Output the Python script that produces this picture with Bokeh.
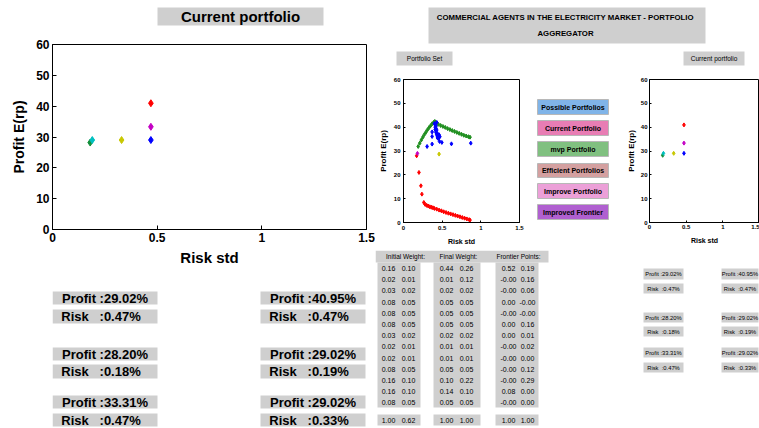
from bokeh.plotting import figure
from bokeh.layouts import row, column
from bokeh.models import Range1d, FixedTicker, NumeralTickFormatter
from bokeh.core.properties import value
from bokeh.embed import file_html
from bokeh.resources import INLINE

# ---------------- data ----------------
cur_profit = [29.02, 28.20, 33.31]
cur_risk = [0.47, 0.18, 0.47]
imp_profit = [40.95, 29.02, 29.02]
imp_risk = [0.47, 0.19, 0.33]
cur_colors = ["#0000ff", "#138f3a", "#c400c4"]
imp_colors = ["#ff0000", "#00c0c0", "#c8c800"]

eff_x = [0.19, 0.21, 0.23, 0.25, 0.27, 0.29, 0.31, 0.33, 0.35, 0.37, 0.39, 0.405,
         0.42, 0.45, 0.48, 0.51, 0.54, 0.57, 0.60, 0.63, 0.66, 0.69, 0.72, 0.75,
         0.78, 0.81, 0.84, 0.86]
eff_y = [31.9, 33.3, 34.6, 35.8, 36.9, 37.9, 38.9, 39.8, 40.6, 41.4, 42.0, 42.4,
         41.7, 41.2, 40.7, 40.3, 39.9, 39.4, 39.0, 38.6, 38.2, 37.8, 37.4, 37.0,
         36.6, 36.3, 36.0, 35.8]
low_x = [0.17, 0.20, 0.225, 0.238, 0.263, 0.28, 0.30, 0.32, 0.34, 0.36, 0.38, 0.40,
         0.43, 0.46, 0.49, 0.52, 0.55, 0.58, 0.61, 0.64, 0.67, 0.70, 0.73, 0.76,
         0.79, 0.82, 0.85, 0.86]
low_y = [28.0, 21.0, 15.4, 11.9, 8.4, 7.6, 7.2, 6.9, 6.6, 6.4, 6.2, 5.9,
         5.6, 5.2, 4.9, 4.5, 4.2, 3.9, 3.6, 3.3, 3.0, 2.7, 2.4, 2.1,
         1.8, 1.5, 1.2, 1.0]
pos_x = [0.305, 0.37, 0.37, 0.37, 0.466, 0.496, 0.62, 0.87, 0.40, 0.41, 0.41, 0.42,
         0.42, 0.42, 0.43, 0.43, 0.43, 0.44, 0.44, 0.44, 0.45, 0.45, 0.46, 0.46,
         0.47, 0.41, 0.42, 0.43]
pos_y = [31.9, 32.9, 36.1, 38.0, 34.0, 33.6, 33.0, 33.3, 41.5, 41.0, 40.0, 39.5,
         38.5, 40.5, 37.5, 38.8, 36.8, 36.0, 37.2, 35.5, 35.2, 36.5, 35.8, 36.8,
         36.0, 39.0, 37.8, 42.0]
set_cur_x = [0.46, 0.18]
set_cur_y = [28.7, 29.0]
set_cur_c = ["#c8c800", "#c400c4"]

x_ticks = [0, 0.5, 1, 1.5]
y_ticks = [0, 10, 20, 30, 40, 50, 60]

init_w1 = [0.16, 0.02, 0.03, 0.08, 0.08, 0.08, 0.03, 0.02, 0.02, 0.08, 0.16, 0.16, 0.08]
init_w2 = [0.10, 0.01, 0.02, 0.05, 0.05, 0.05, 0.02, 0.01, 0.01, 0.05, 0.10, 0.10, 0.05]
final_w1 = [0.44, 0.01, 0.02, 0.05, 0.05, 0.05, 0.02, 0.01, 0.01, 0.05, 0.10, 0.14, 0.05]
final_w2 = [0.26, 0.12, 0.02, 0.05, 0.05, 0.05, 0.02, 0.01, 0.01, 0.05, 0.22, 0.10, 0.05]
front_1 = [0.52, -0.0, -0.0, 0.0, -0.0, 0.0, 0.0, -0.0, -0.0, -0.0, -0.0, 0.08, -0.0]
front_2 = [0.19, 0.16, 0.06, -0.0, -0.0, 0.16, 0.01, 0.02, 0.00, 0.12, 0.29, 0.00, 0.00]
totals = [[1.00, 0.62], [1.00, 1.00], [1.00, 1.00]]
table_heads = ["Initial Weight:", "Final Weight:", "Frontier Points:"]

buttons = ["Possible Portfolios", "Current Portfolio", "mvp Portfolio",
           "Efficient Portfolios", "Improve Portfolio", "Improved Frontier"]
button_colors = ["#80b4e8", "#e87db4", "#80c080", "#d4a0a0", "#eca0d8", "#b060d0"]

SANS = "Liberation Sans"
GRAY = "#cfcfcf"


def canvas(x0, x1, y0, y1, bl=0, br=0, bt=0, bb=0):
    """Blank drawing area; (x0..x1, y0..y1) is the whole canvas in page pixels,
    the borders bl/br/bt/bb match the neighbouring plots' frames."""
    p = figure(width=x1 - x0, height=y1 - y0,
               x_range=Range1d(x0 + bl, x1 - br), y_range=Range1d(y1 - bb, y0 + bt),
               output_backend="svg", toolbar_location=None,
               min_border_left=bl, min_border_right=br,
               min_border_top=bt, min_border_bottom=bb,
               x_axis_location=None, y_axis_location=None)
    p.grid.visible = False
    p.outline_line_color = None
    p.background_fill_color = "white"
    p.border_fill_color = "white"
    return p


def box(p, l, r, t, b, color, line_color=None):
    p.quad(left=[l], right=[r], top=[t], bottom=[b], fill_color=color,
           line_color=line_color)


def txt(p, x, y, s, size, bold=True, align="center"):
    p.text(x=[x], y=[y], text=[s], text_font=value(SANS),
           text_font_size=f"{size}px", text_font_style="bold" if bold else "normal",
           text_align=align, text_baseline="middle", text_color="black")


def scatter_fig(x0, x1, y0, y1, fl, fr, ft, fb, tick_size, xlab_size, ylab_size,
                tsoff, lsoff_x, lsoff_y, tick_len):
    p = figure(width=x1 - x0, height=y1 - y0, x_range=Range1d(0, 1.5),
               y_range=Range1d(0, 60), output_backend="svg", toolbar_location=None,
               min_border_left=fl - x0, min_border_right=x1 - fr,
               min_border_top=ft - y0, min_border_bottom=y1 - fb)
    p.grid.visible = False
    p.outline_line_color = "black"
    p.background_fill_color = "white"
    p.border_fill_color = "white"
    p.xaxis.ticker = FixedTicker(ticks=x_ticks)
    p.yaxis.ticker = FixedTicker(ticks=y_ticks)
    p.xaxis.formatter = NumeralTickFormatter(format="0.[0]")
    for ax in (p.xaxis[0], p.yaxis[0]):
        ax.major_tick_in = tick_len
        ax.major_tick_out = 0
        ax.minor_tick_in = 0
        ax.minor_tick_out = 0
        ax.axis_line_color = "black"
        ax.major_label_text_font = SANS
        ax.major_label_text_font_size = f"{tick_size}px"
        ax.major_label_text_font_style = "bold"
        ax.major_label_text_color = "black"
        ax.major_label_standoff = tsoff
        ax.axis_label_text_font = SANS
        ax.axis_label_text_font_style = "bold"
        ax.axis_label_text_color = "black"
    p.xaxis.axis_label = "Risk std"
    p.yaxis.axis_label = "Profit E(rp)"
    p.xaxis.axis_label_text_font_size = f"{xlab_size}px"
    p.yaxis.axis_label_text_font_size = f"{ylab_size}px"
    p.xaxis.axis_label_standoff = lsoff_x
    p.yaxis.axis_label_standoff = lsoff_y
    return p


# ---------------- left column ----------------
A_L, A_R = 52, 366   # frame edges of the left chart (columns align their frames)
cA1 = canvas(0, 375, 0, 38, bl=A_L, br=375 - A_R)
box(cA1, 157, 323, 7, 25, GRAY)
txt(cA1, 240, 16, "Current portfolio", 15)

figA = scatter_fig(0, 375, 38, 268, A_L, A_R, 44, 231, 12, 15, 14, 3, 4, 6, 4)
figA.scatter(cur_risk, cur_profit, marker="diamond", size=7, color=cur_colors)
figA.scatter(imp_risk, imp_profit, marker="diamond", size=7, color=imp_colors)

cA2 = canvas(0, 375, 268, 428, bl=A_L, br=375 - A_R)
col_lr = [(52, 157), (260, 365)]
prof_rows = [(291, 304), (347, 360), (395, 408)]
risk_rows = [(309, 323), (364, 378), (413, 426)]
for ci, (profits, risks) in enumerate([(cur_profit, cur_risk), (imp_profit, imp_risk)]):
    l, r = col_lr[ci]
    for i in range(3):
        t, b = prof_rows[i]
        box(cA2, l, r, t, b, GRAY)
        txt(cA2, (l + r) / 2, (t + b) / 2, f"Profit :{profits[i]:.2f}%", 13)
        t, b = risk_rows[i]
        box(cA2, l, r, t, b, GRAY)
        txt(cA2, (l + r) / 2 - 4, (t + b) / 2,
            f"Risk\u00a0\u00a0\u00a0:{risks[i]:.2f}%", 13)

colA = column(cA1, figA, cA2, spacing=0)

# ---------------- right block ----------------
cB1 = canvas(375, 759, 0, 70)
box(cB1, 428, 705, 7, 43, GRAY)
txt(cB1, 565, 17, "COMMERCIAL AGENTS IN THE ELECTRICITY MARKET - PORTFOLIO", 7.8)
txt(cB1, 565, 33, "AGGREGATOR", 7.8)
box(cB1, 396, 452, 51, 65, GRAY)
txt(cB1, 424, 58, "Portfolio Set", 6.5, bold=False)
box(cB1, 683, 744, 51, 65, GRAY)
txt(cB1, 713.5, 58, "Current portfolio", 6.5, bold=False)

M_T, M_B = 79, 222   # frame top/bottom of the middle row (rows align their frames)
figM = scatter_fig(375, 530, 70, 250, 401, 519, M_T, M_B, 6, 7, 8, 3, 5, 3, 2)
figM.scatter(eff_x, eff_y, marker="diamond", size=4, color="#1f8f1f")
figM.scatter(low_x, low_y, marker="diamond", size=4, color="#ff0000")
figM.scatter(pos_x, pos_y, marker="diamond", size=4, color="#0000ff")
figM.scatter(set_cur_x, set_cur_y, marker="diamond", size=4, color=set_cur_c)

cBtn = canvas(530, 623, 70, 250, bt=M_T - 70, bb=250 - M_B)
btn_rows = [(99, 114), (120, 135), (141, 156), (163, 177), (183, 198), (204, 219)]
for (t, b), name, c in zip(btn_rows, buttons, button_colors):
    box(cBtn, 537, 608, t, b, c, line_color="#b8b8b8")
    txt(cBtn, 572.5, (t + b) / 2, name, 7)

figR = scatter_fig(623, 759, 70, 250, 643, 759, M_T, M_B, 6, 7, 8, 2, 5, 2, 2)
figR.scatter(cur_risk, cur_profit, marker="diamond", size=4, color=cur_colors)
figR.scatter(imp_risk, imp_profit, marker="diamond", size=4, color=imp_colors)

cB3 = canvas(375, 759, 250, 428)
box(cB3, 375, 548, 250, 262, GRAY)
col_boxes = [(377, 420), (433, 480), (495, 538)]
head_x = [405, 458, 518]
val_x = [(388, 408), (446, 466), (508, 527)]
for h, hx in zip(table_heads, head_x):
    txt(cB3, hx, 256, h, 6.5, bold=False)
cols = [(init_w1, init_w2), (final_w1, final_w2), (front_1, front_2)]
for ci, ((l, r), (a, b), (vx1, vx2)) in enumerate(zip(col_boxes, cols, val_x)):
    box(cB3, l, r, 262, 407, GRAY)
    box(cB3, l, r, 414, 425, GRAY)
    for i in range(len(a)):
        y = 268 + i * 11.2
        txt(cB3, vx1, y, f"{a[i]:.2f}", 7, bold=False)
        txt(cB3, vx2, y, f"{b[i]:.2f}", 7, bold=False)
    txt(cB3, vx1, 419.5, f"{totals[ci][0]:.2f}", 7, bold=False)
    txt(cB3, vx2, 419.5, f"{totals[ci][1]:.2f}", 7, bold=False)

rp_cols = [(643, 683), (721, 758)]
rp_prof = [(268, 279), (312, 322), (347, 357)]
rp_risk = [(283, 293), (326, 336), (362, 372)]
for ci, (profits, risks) in enumerate([(cur_profit, cur_risk), (imp_profit, imp_risk)]):
    l, r = rp_cols[ci]
    for i in range(3):
        t, b = rp_prof[i]
        box(cB3, l, r, t, b, GRAY)
        txt(cB3, (l + r) / 2, (t + b) / 2, f"Profit :{profits[i]:.2f}%", 5.8, bold=False)
        t, b = rp_risk[i]
        box(cB3, l, r, t, b, GRAY)
        txt(cB3, (l + r) / 2, (t + b) / 2, f"Risk\u00a0\u00a0:{risks[i]:.2f}%", 5.8, bold=False)

colB = column(cB1, row(figM, cBtn, figR, spacing=0), cB3, spacing=0)
layout = row(colA, colB, spacing=0)

with open("out.html", "w") as f:
    f.write(file_html(layout, INLINE))
